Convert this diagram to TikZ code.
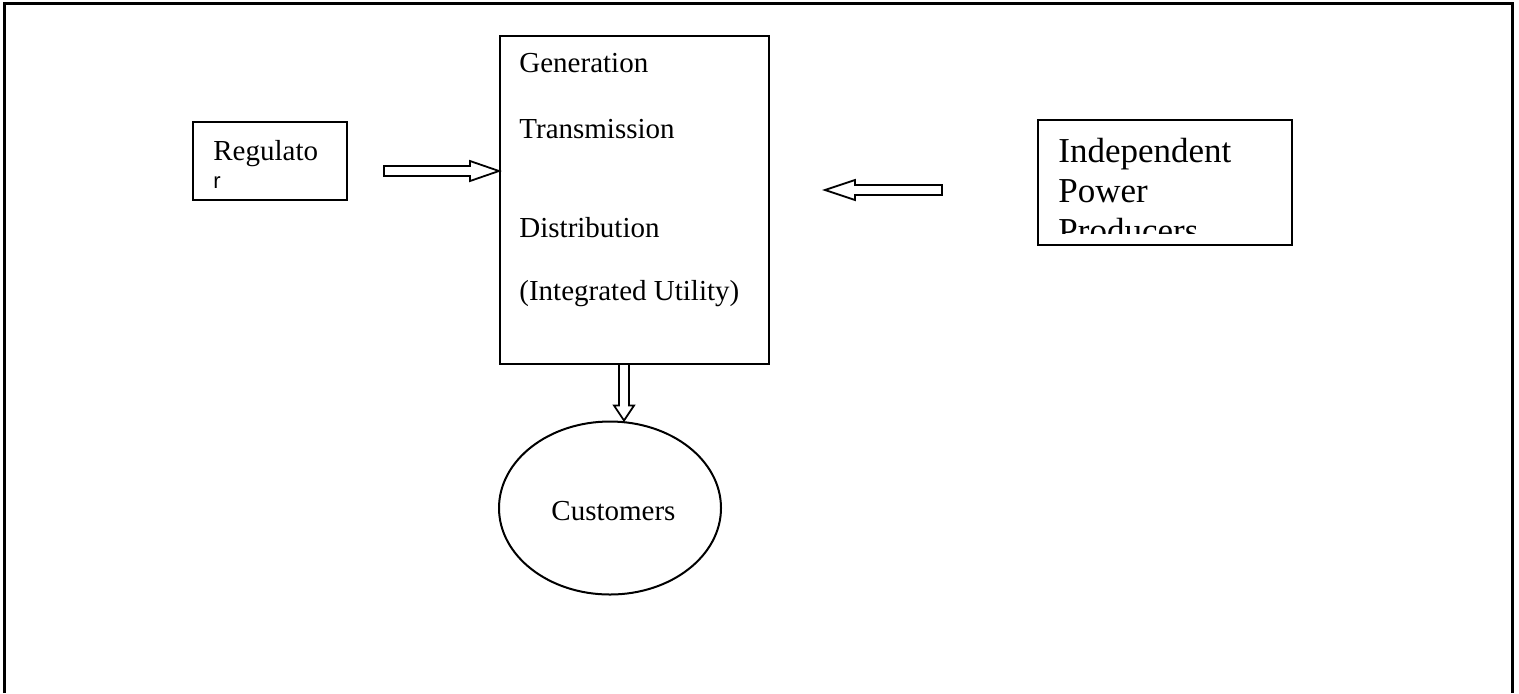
\documentclass[tikz,border=0pt]{standalone}
\usepackage{fontspec}
\setmainfont{Liberation Serif}
\setsansfont{Liberation Sans}
\usetikzlibrary{calc,shapes.geometric}
\begin{document}
\begin{tikzpicture}[x=0.5pt,y=-0.5pt,
  box/.style={draw,line width=1pt,inner sep=0pt},
  txt/.style={anchor=base west,inner sep=0pt,font=\fontsize{14.5}{17}\selectfont},
  bigtxt/.style={anchor=base west,inner sep=0pt,font=\fontsize{17.5}{20}\selectfont},
  blockarrow/.style={draw,line width=0.9pt,fill=white,line join=miter}]
\useasboundingbox (0,0) rectangle (1519,693);
% outer frame (open at the bottom)
\draw[line width=1.5pt] (4,693) -- (4,3.5) -- (1512,3.5) -- (1512,693);
% boxes
\node[box,minimum width=77pt,minimum height=39pt,anchor=north west] (reg) at (192,121) {};
\node[box,minimum width=134.5pt,minimum height=164pt,anchor=north west] (main) at (499,35) {};
\node[box,minimum width=127pt,minimum height=62.5pt,anchor=north west] (ipp) at (1037,119) {};
\node[box,shape=ellipse,minimum width=111pt,minimum height=86.5pt] (cust) at (610,508) {};
% texts
\node[txt] (reg1) at (213,160) {Regulato};
\node[txt,font=\sffamily\fontsize{11}{13}\selectfont] (reg2) at (213,188) {r};
\node[txt] (m1) at (519,72) {Generation};
\node[txt] (m2) at (519,138) {Transmission};
\node[txt] (m3) at (519,237) {Distribution};
\node[txt] (m4) at (519,300) {(Integrated Utility)};
\node[txt] (c1) at (551,520) {Customers};
\begin{scope}
\clip (1038,120) rectangle (1290,233);
\node[bigtxt] (i1) at (1058,162) {Independent};
\node[bigtxt] (i2) at (1058,202) {Power};
\node[bigtxt] (i3) at (1058,242) {Producers};
\end{scope}
% block arrows
\coordinate (a1tip) at (main.west |- 0,171);
\draw[blockarrow] ($(a1tip)+(-115,-5)$) -- ($(a1tip)+(-29,-5)$) -- ($(a1tip)+(-29,-10)$) -- (a1tip)
  -- ($(a1tip)+(-29,10)$) -- ($(a1tip)+(-29,5)$) -- ($(a1tip)+(-115,5)$) -- cycle;
\coordinate (a2tip) at (825,190);
\draw[blockarrow] (a2tip) -- ($(a2tip)+(30,-10)$) -- ($(a2tip)+(30,-5)$) -- ($(a2tip)+(117,-5)$)
  -- ($(a2tip)+(117,5)$) -- ($(a2tip)+(30,5)$) -- ($(a2tip)+(30,10)$) -- cycle;
\coordinate (a3top) at (624,0 |- main.south);
\coordinate (a3tip) at (624,0 |- cust.north);
\draw[blockarrow] ($(a3top)+(-5,0)$) -- ($(a3tip)+(-5,-15)$) -- ($(a3tip)+(-10,-15)$) -- (a3tip)
  -- ($(a3tip)+(10,-15)$) -- ($(a3tip)+(5,-15)$) -- ($(a3top)+(5,0)$);
\end{tikzpicture}
\end{document}
